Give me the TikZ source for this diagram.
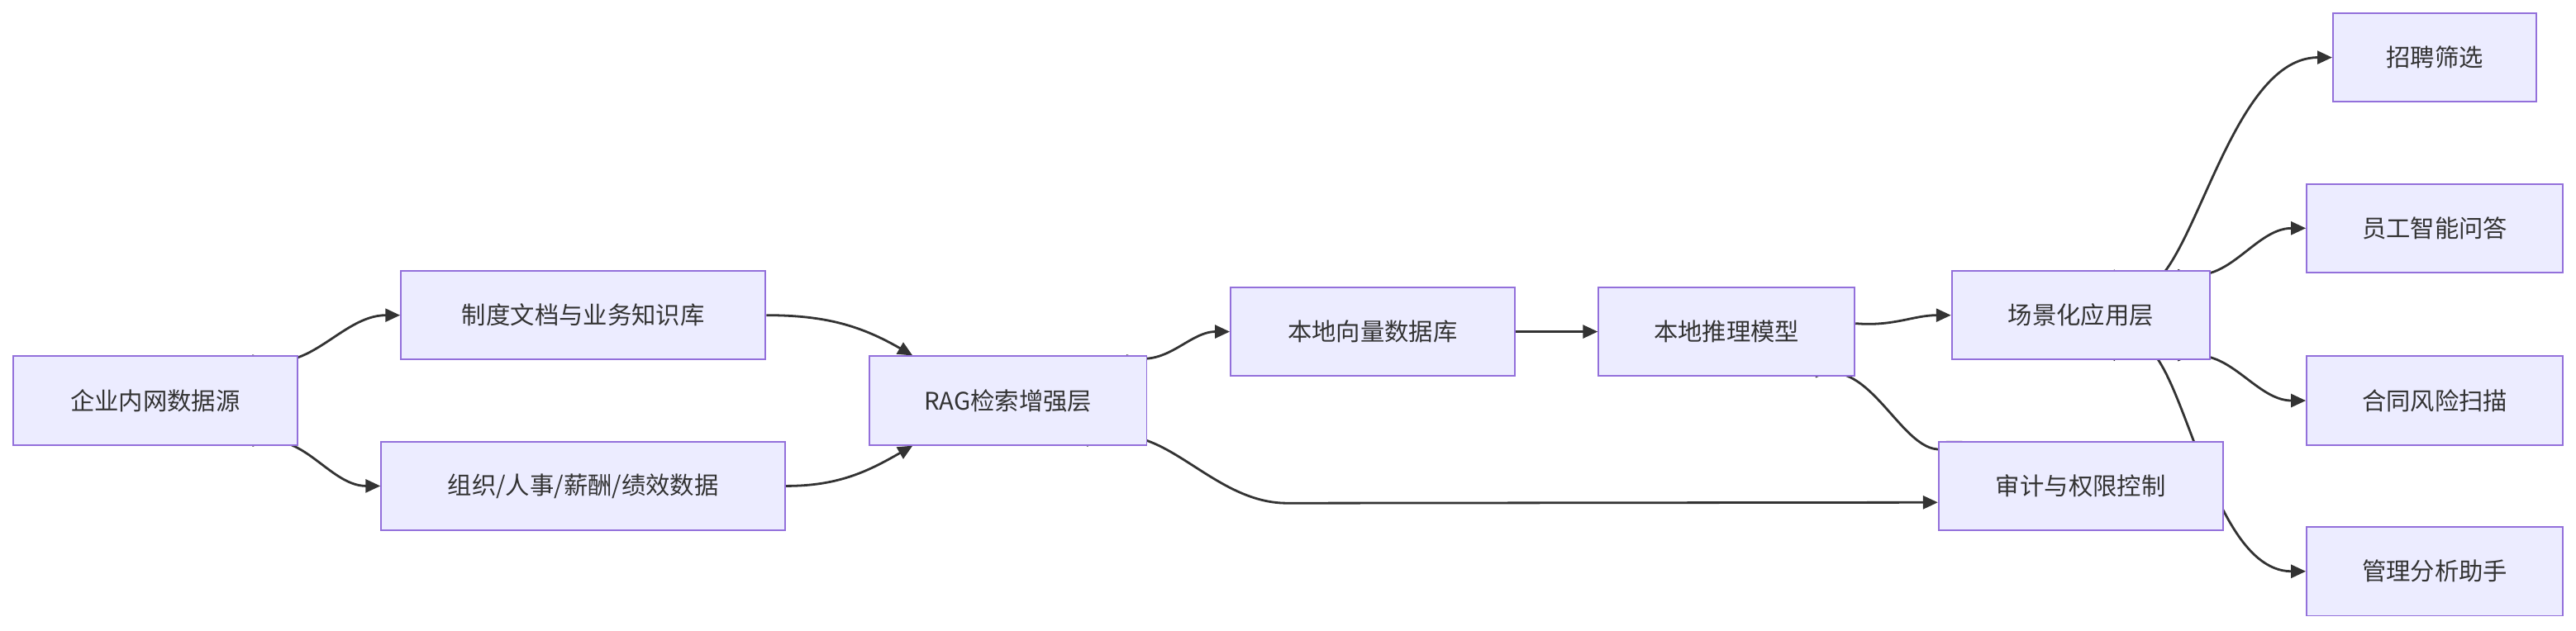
\documentclass[tikz,border=0pt]{standalone}
\usepackage{fontspec}
\setmainfont{Noto Sans CJK SC}
\usetikzlibrary{arrows.meta,calc,backgrounds}
\definecolor{boxfill}{HTML}{ECECFF}
\definecolor{boxline}{HTML}{9370DB}
\definecolor{edgecol}{HTML}{333333}
\tikzset{
  box/.style={draw=boxline,fill=boxfill,line width=1.3pt,minimum height=2.7cm,
    inner sep=0pt,font=\fontsize{21}{25}\selectfont,text=edgecol},
  link/.style={draw=edgecol,line width=2pt,-{Triangle[length=0.45cm,width=0.4cm]}}
}
\begin{document}
\begin{tikzpicture}[x=0.05cm,y=-0.05cm]
  \useasboundingbox (0,0) rectangle (1568,384);
  \node[box,minimum width=8.65cm] (src) at (94.5,244) {企业内网数据源};
  \node[box,minimum width=11.1cm] (doc) at (355,192) {制度文档与业务知识库};
  \node[box,minimum width=12.3cm] (org) at (355,296) {组织/人事/薪酬/绩效数据};
  \node[box,minimum width=8.45cm] (rag) at (613.5,244) {RAG检索增强层};
  \node[box,minimum width=8.65cm] (vec) at (835.5,202) {本地向量数据库};
  \node[box,minimum width=7.8cm] (mod) at (1051,202) {本地推理模型};
  \node[box,minimum width=7.85cm] (app) at (1266.5,192) {场景化应用层};
  \node[box,minimum width=8.65cm] (aud) at (1266.5,296) {审计与权限控制};
  \node[box,minimum width=6.2cm] (rec) at (1482,35) {招聘筛选};
  \node[box,minimum width=7.8cm] (qa) at (1482,139) {员工智能问答};
  \node[box,minimum width=7.8cm] (con) at (1482,244) {合同风险扫描};
  \node[box,minimum width=7.8cm] (mgr) at (1482,348) {管理分析助手};
  % connectors
  \begin{scope}[on background layer]
    \draw[link] ($(src.north)+(59,0)$) to[out=-25,in=180] (doc.west);
    \draw[link] ($(src.south)+(59,0)$) to[out=25,in=180] (org.west);
    \draw[link] (doc.east) to[out=0,in=150] ($(rag.north)+(-58,0)$);
    \draw[link] (org.east) to[out=0,in=-150] ($(rag.south)+(-58,0)$);
    \draw[link] ($(rag.north)+(72,0)$) to[out=-20,in=180] (vec.west);
    \draw[link] ($(rag.south)+(48,0)$) to[out=30,in=180] ($(rag.south)+(170,35)$) -- ($(aud.west)+(0,10)$);
    \draw[link] (vec) -- (mod);
    \draw[link] ($(mod.east)+(0,-5)$) to[out=-5,in=180] (app.west);
    \draw[link] ($(mod.south)+(54,0)$) to[out=25,in=-155] ($(aud.north)+(-72,0)$);
    \draw[link] ($(app.north)+(20,0)$) to[out=-55,in=180] (rec.west);
    \draw[link] ($(app.north)+(59,0)$) to[out=-25,in=180] (qa.west);
    \draw[link] ($(app.south)+(59,0)$) to[out=25,in=180] (con.west);
    \draw[link] ($(app.south)+(20,0)$) to[out=55,in=180] (mgr.west);
  \end{scope}
\end{tikzpicture}
\end{document}
